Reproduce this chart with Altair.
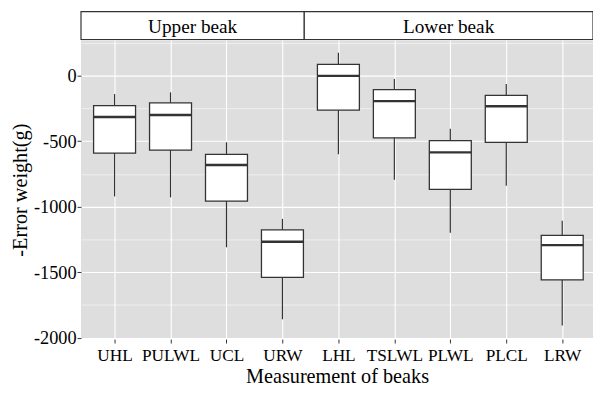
import altair as alt
import pandas as pd

categories = ["UHL", "PULWL", "UCL", "URW", "LHL", "TSLWL", "PLWL", "PLCL", "LRW"]
groups = ["Upper beak"] * 4 + ["Lower beak"] * 5
whisker_low = [-922, -929, -1310, -1859, -601, -794, -1199, -840, -1906]
q1 = [-591, -568, -957, -1540, -264, -475, -868, -509, -1558]
median = [-316, -301, -682, -1268, -2, -195, -586, -234, -1293]
q3 = [-230, -208, -601, -1177, 85, -108, -497, -151, -1219]
whisker_high = [-141, -128, -509, -1093, 174, -27, -405, -64, -1108]

strip_labels = ["Upper beak", "Lower beak"]
strip_start = [-0.6, 3.39]
strip_end = [3.39, 8.55]

df = pd.DataFrame({
    "idx": list(range(len(categories))),
    "cat": categories,
    "group": groups,
    "lo": whisker_low,
    "q1": q1,
    "med": median,
    "q3": q3,
    "hi": whisker_high,
})
strip_df = pd.DataFrame({"label": strip_labels, "start": strip_start, "end": strip_end})

FONT = "Liberation Serif"
DARK = "#333333"

names_js = "[" + ",".join("'" + c + "'" for c in categories) + "]"

x_scale = alt.Scale(domain=[-0.6, 8.55], nice=False, zero=False)
y_scale = alt.Scale(domain=[-2010, 270], nice=False, zero=False)

x_axis = alt.Axis(
    values=list(range(len(categories))),
    labelExpr=names_js + "[datum.value]",
    title="Measurement of beaks",
    grid=True, gridColor="white", gridWidth=1.1,
    domain=False, ticks=True, tickColor=DARK, tickSize=4,
    labelFont=FONT, labelFontSize=17.5, labelColor="black", labelPadding=4,
    titleFont=FONT, titleFontSize=20.5, titleFontWeight="normal", titleColor="black",
    titlePadding=3,
)
y_axis = alt.Axis(
    values=list(range(-2000, 251, 250)),
    labelExpr="datum.value % 500 === 0 ? toString(datum.value) : ''",
    title="-Error weight(g)",
    grid=True, gridColor="white",
    gridWidth={"condition": {"test": "datum.value % 500 === 0", "value": 1.2}, "value": 0.55},
    tickOpacity={"condition": {"test": "datum.value % 500 === 0", "value": 1}, "value": 0},
    domain=False, ticks=True, tickColor=DARK, tickSize=4,
    labelFont=FONT, labelFontSize=18.5, labelColor="black", labelPadding=1,
    titleFont=FONT, titleFontSize=20.5, titleFontWeight="normal", titleColor="black",
    titlePadding=3,
)

base = alt.Chart(df)

whiskers = base.mark_rule(color=DARK, strokeWidth=1.2).encode(
    x=alt.X("idx:Q", scale=x_scale, axis=x_axis),
    y=alt.Y("lo:Q", scale=y_scale, axis=y_axis),
    y2="hi:Q",
)

boxes = base.transform_calculate(
    xa="datum.idx - 0.375", xb="datum.idx + 0.375"
).mark_rect(fill="white", stroke=DARK, strokeWidth=1.3).encode(
    x=alt.X("xa:Q", scale=x_scale, axis=x_axis),
    x2="xb:Q",
    y=alt.Y("q1:Q", scale=y_scale, axis=y_axis),
    y2="q3:Q",
)

medians = base.transform_calculate(
    xa="datum.idx - 0.375", xb="datum.idx + 0.375"
).mark_rule(color=DARK, strokeWidth=2.4).encode(
    x=alt.X("xa:Q", scale=x_scale, axis=x_axis),
    x2="xb:Q",
    y=alt.Y("med:Q", scale=y_scale, axis=y_axis),
)

strips = alt.Chart(strip_df).mark_rect(fill="white", stroke=DARK, strokeWidth=1.2).encode(
    x=alt.X("start:Q", scale=x_scale, axis=x_axis),
    x2="end:Q",
    y=alt.value(-29),
    y2=alt.value(-0.7),
)

strip_text = alt.Chart(strip_df).transform_calculate(
    mid="(datum.start + datum.end) / 2"
).mark_text(font=FONT, fontSize=19.5, color="black", baseline="alphabetic").encode(
    x=alt.X("mid:Q", scale=x_scale, axis=x_axis),
    y=alt.value(-7.5),
    text="label:N",
)

chart = alt.layer(whiskers, boxes, medians, strips, strip_text).properties(
    width=519,
    height=303,
    autosize=alt.AutoSizeParams(type="none"),
    padding={"left": 74, "top": 30, "right": 0, "bottom": 47},
).configure_view(fill="#DEDEDE", stroke=None)

chart.save("out.html", embed_options={"renderer": "svg", "actions": False})
